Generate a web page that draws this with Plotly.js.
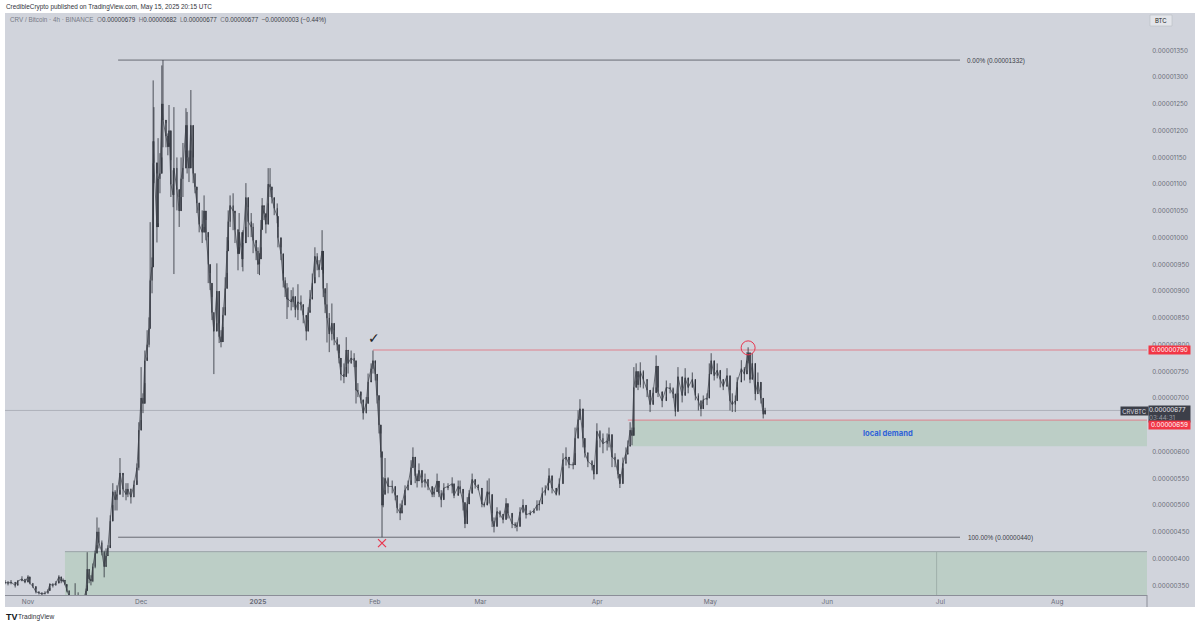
<!DOCTYPE html>
<html><head><meta charset="utf-8">
<script src="https://cdn.plot.ly/plotly-3.0.1.min.js"></script>
<style>html,body{margin:0;padding:0;background:#fff}#c{width:1200px;height:625px}</style></head>
<body><div id="c"></div>
<script>
// days after 1 Nov 2024
const barDays=[-6.1,-5.3,-4.5,-3.4,-2.7,-1.6,-.8,0,.5,1.3,2.1,2.9,3.7,4.5,5.3,5.8,6.6,7.4,8.2,8.8,9.3,9.8,10.3,10.9,11.7,12.5,13.3,14.1,14.9,15.4,15.7,16.2,16.7,17.2,17.8,18.3,18.8,19.6,20.2,20.7,21.2,21.8,22.5,23.1,23.6,24.4,25.2,26,26.5,27.3,28.1,28.9,29.4,30,30.5,31,31.6,32.1,32.4,32.9,33.2,33.4,34.2,34.5,35,35.5,35.8,36.6,37.1,37.4,37.9,38.5,38.7,39.5,40.1,40.6,41.1,41.9,42.2,42.7,43.2,43.8,44.3,44.8,45.4,46.2,46.7,47.2,47.8,48.3,48.8,49.3,50.1,50.7,51.2,51.7,52.3,52.8,53.1,53.6,54.4,54.9,55.7,56,56.8,57,57.8,58.4,59.2,59.7,60.5,61,61.4,61.8,62.1,62.6,63.1,63.7,64.2,64.7,65.3,66.1,66.3,67.1,67.7,68.2,68.7,69,69.8,70.3,70.9,71.6,72.4,73,73.8,74.3,74.8,75.4,76.1,76.7,77.2,78,78.3,78.8,79.3,79.9,80.6,81.2,82,82.5,83,83.8,84.4,84.9,85.7,86.5,87,87.5,88.3,88.9,89.7,90.2,91,91.5,92.1,92.6,93.1,93.6,93.9,94.2,94.7,95.5,96.6,97.4,97.9,98.7,99.2,100,100.8,101.6,102.1,102.7,103.2,103.7,104.5,105.3,106.1,107.2,107.7,108.5,109,109.6,110.3,111.4,112.5,113,114.1,114.6,115.4,115.9,116.5,117,117.8,118.6,119.4,120.4,121,121.8,122.3,123.1,123.6,124.4,125.2,126,126.8,127.3,128.4,129.2,129.7,130.5,131.3,132.1,133.2,134.2,135,135.6,136.4,137.2,138,138.2,139,140.1,140.9,141.9,142.7,143.5,144.6,145.1,145.9,146.4,147.2,147.7,148.5,149.6,150.1,150.9,151.7,152.5,153.6,154.1,154.9,155.7,156.5,157,157.8,158.6,159.1,159.7,160.2,160.7,161.3,161.8,162.4,163.2,164.2,165,165.8,166.6,167.1,168.2,169.3,170.3,171.1,171.7,172.4,173.5,174.3,175.1,176.2,177,177.8,178.5,179.1,180.1,180.7,181.2,182,182.8,183.6,184.4,185.4,186.2,186.8,187.6,188.1,189.2,190,190.7,191,191.5,192.1,192.9,193.6,194.4,195,195.5];
// prices in units of 0.00000001 BTC
const highs=[360,358,360,354,360,367,362,369,361,354,343,339,337,339,343,354,354,358,369,363,363,359,348,339,329,354,337,329,329,344,412,378,369,391,415,477,458,434,415,419,425,481,541,528,537,588,556,541,541,531,546,578,655,758,709,789,827,851,1029,963,1294,1244,1120,1186,1158,1322,1332,1214,1195,1248,1145,1126,1244,1150,1076,1150,1177,1242,1235,1163,1276,1150,1120,1089,1051,1051,1079,1033,1001,934,889,859,952,840,827,870,926,1001,1051,1079,1083,1046,1014,1046,982,1014,1102,1057,1046,1027,990,982,971,1033,1074,1057,1038,1130,1130,1089,1070,1064,1020,982,933,926,915,907,902,907,877,913,892,870,851,870,902,933,982,971,958,1014,933,896,915,859,877,827,814,784,758,765,814,789,789,784,758,728,705,692,702,746,765,789,765,733,696,634,589,552,588,552,546,528,515,503,509,537,546,584,608,571,559,578,552,559,546,528,533,559,533,528,541,541,552,524,546,546,522,477,515,528,559,543,537,509,505,546,550,485,477,496,490,481,513,496,477,468,468,496,511,490,490,494,509,509,533,537,550,569,546,524,550,597,608,584,580,645,677,698,645,608,597,584,571,653,640,634,634,645,608,597,565,552,589,608,621,655,645,758,765,739,767,752,733,702,720,780,720,705,733,728,720,683,758,720,756,733,748,715,709,696,705,709,765,784,752,765,746,733,756,715,709,705,739,771,758,786,795,746,784,720,748,715,683,682];
const lows=[352,350,352,346,352,358,354,360,352,345,335,333,332,333,335,345,346,350,358,354,356,350,337,328,322,326,322,322,322,326,350,354,350,356,382,425,419,406,365,387,406,425,500,490,490,528,515,509,515,503,515,546,565,659,672,728,776,795,830,896,1139,1102,991,1027,1083,1150,1169,1169,1154,1177,1076,1057,932,1051,1020,1076,1076,1163,1120,1104,1163,1102,1083,1046,1010,990,1020,995,915,902,846,745,840,803,795,833,870,934,995,1020,1014,990,939,982,945,937,1020,1001,1001,971,958,932,930,982,1033,1033,1008,1064,1076,1064,1042,1027,982,958,907,889,848,870,864,870,851,846,864,840,808,846,864,889,926,939,926,945,889,859,804,786,808,799,789,765,733,728,758,746,765,758,690,702,690,660,672,702,733,746,733,690,634,589,440,496,528,522,522,509,485,472,490,518,528,546,571,541,533,546,533,533,528,515,515,528,515,496,522,528,522,513,522,522,490,457,490,515,533,531,528,496,496,505,503,459,449,477,477,466,490,475,457,457,451,477,485,475,481,485,490,490,509,518,533,541,522,518,518,571,574,569,567,597,645,659,608,589,571,565,548,621,608,597,602,608,571,571,550,532,569,580,597,612,612,645,733,715,720,718,702,674,696,720,702,683,702,709,700,666,709,692,711,709,720,696,677,666,687,687,715,746,733,737,720,715,724,677,674,674,720,733,733,752,765,728,739,696,709,690,662,677];
const closes=[356,354,356,350,358,362,356,366,354,348,338,336,334,335,340,352,350,354,366,358,360,352,340,330,326,330,325,326,328,340,380,362,358,385,410,450,430,412,385,405,420,470,525,510,520,560,530,520,530,515,538,570,640,700,690,770,800,830,920,945,1180,1140,1020,1110,1120,1250,1220,1190,1170,1200,1100,1080,1130,1090,1050,1110,1130,1210,1150,1130,1210,1120,1095,1065,1025,1010,1050,1010,950,915,860,825,900,815,805,855,905,975,1030,1060,1050,1015,970,1010,960,990,1075,1030,1020,995,975,950,960,1015,1060,1045,1025,1100,1095,1075,1055,1040,1000,970,920,905,885,885,880,890,865,880,875,855,825,860,885,915,965,950,940,975,905,875,850,820,840,810,800,775,745,740,790,765,775,770,715,712,697,672,690,730,755,770,745,705,650,600,500,520,550,535,535,518,495,485,500,528,538,570,590,555,545,565,542,548,535,520,525,545,522,510,532,535,540,518,535,530,505,465,502,522,548,538,532,502,500,525,520,470,460,488,483,473,503,485,465,462,460,487,500,482,485,490,500,502,522,528,542,555,532,520,540,585,590,576,575,625,660,680,625,598,582,575,558,638,625,615,620,632,590,585,558,540,578,595,610,640,630,720,750,725,750,735,715,688,710,760,712,695,720,718,708,675,740,705,738,720,735,705,695,680,697,700,745,770,742,752,735,722,742,695,688,695,730,755,745,770,785,735,765,708,730,700,670,677];
const firstOpen=354;
const priceTicks=[1350,1300,1250,1200,1150,1100,1050,1000,950,900,850,800,750,700,650,600,550,500,450,400,350];
const monthDays=[0,30,61,92,120,151,181,212,242,273];
const monthLabels=['Nov','Dec','<b>2025</b>','Feb','Mar','Apr','May','Jun','Jul','Aug'];
const fibTop=1332, fibBottom=440, resistance=790, demandTop=659, demandBottom=610, zoneTop=413, zoneBottom=300, lastPrice=677;

const T0=Date.UTC(2024,10,1);
const dt=d=>new Date(T0+d*86400000).toISOString();
const px=x=>(x-5)/1142, py=y=>(595-y)/582;
const opens=closes.map((c,i)=>i?closes[i-1]:firstOpen);
const dates=barDays.map(dt);
const xEnd=dt(296.8);
const dark='#2b2e37';

const traces=[
 {type:'scatter',mode:'lines',x:dates,y:closes,line:{color:'#3a3d46',width:.7},hoverinfo:'skip',showlegend:false},
 {type:'candlestick',x:dates,open:opens,high:highs,low:lows,close:closes,
  increasing:{line:{color:dark,width:.8},fillcolor:dark},decreasing:{line:{color:dark,width:.8},fillcolor:dark},
  whiskerwidth:0,hoverinfo:'skip',showlegend:false},
 {type:'scatter',mode:'markers',x:[dt(93.9)],y:[429],marker:{symbol:'x-thin',size:8,line:{color:'#e8364f',width:1.2}},hoverinfo:'skip',showlegend:false},
 {type:'scatter',mode:'markers',x:[dt(191)],y:[794],marker:{symbol:'circle-open',size:14,line:{color:'#e8364f',width:1},color:'#e8364f'},hoverinfo:'skip',showlegend:false}
];
const shapes=[
 {type:'rect',xref:'paper',yref:'paper',x0:0,x1:px(1195),y0:py(607),y1:1,fillcolor:'#d1d4dc',line:{width:0},layer:'below'},
 {type:'rect',xref:'x',yref:'y',x0:dt(9.8),x1:xEnd,y0:zoneBottom,y1:zoneTop,fillcolor:'#bccec6',line:{width:0},layer:'below'},
 {type:'line',xref:'x',yref:'y',x0:dt(9.8),x1:xEnd,y0:zoneTop,y1:zoneTop,line:{color:'#9aa3a6',width:1},layer:'below'},
 {type:'line',xref:'x',yref:'y',x0:dt(241),x1:dt(241),y0:zoneBottom,y1:zoneTop,line:{color:'#9fb0aa',width:1},layer:'below'},
 {type:'rect',xref:'x',yref:'y',x0:dt(160.2),x1:xEnd,y0:demandBottom,y1:demandTop,fillcolor:'#bccec6',line:{width:0},layer:'below'},
 {type:'line',xref:'x',yref:'y',x0:dt(159.1),x1:xEnd,y0:demandTop,y1:demandTop,line:{color:'#e0808c',width:1},layer:'below'},
 {type:'line',xref:'x',yref:'y',x0:dt(91.5),x1:xEnd,y0:resistance,y1:resistance,line:{color:'#e0808c',width:1},layer:'below'},
 {type:'line',xref:'paper',yref:'y',x0:0,x1:1,y0:lastPrice,y1:lastPrice,line:{color:'#aeb1ba',width:1},layer:'below'},
 {type:'line',xref:'x',yref:'y',x0:dt(23.9),x1:dt(247.2),y0:fibTop,y1:fibTop,line:{color:'#4c4f58',width:.8},layer:'below'},
 {type:'line',xref:'x',yref:'y',x0:dt(23.9),x1:dt(247.2),y0:fibBottom,y1:fibBottom,line:{color:'#4c4f58',width:.8},layer:'below'},
 {type:'line',xref:'paper',yref:'paper',x0:1,x1:1,y0:py(607),y1:0,line:{color:'#8b8e98',width:1},layer:'below'},
 {type:'rect',xref:'paper',yref:'paper',x0:px(1150),x1:px(1172),y0:py(26),y1:py(15),fillcolor:'#e3e5ea',line:{color:'#b9bcc5',width:.6},layer:'above'}
];
const fam='Inter, "Liberation Sans", sans-serif';
const lib='"Liberation Sans", sans-serif';
function note(x,y,text,o={}){return Object.assign({xref:'paper',yref:'paper',x:px(x),y:py(y),text,showarrow:false,xanchor:'left',yanchor:'middle',borderpad:0,font:{family:lib,size:6.4,color:'#3b3e47'}},o);}
const g=s=>`<span style="color:#787b86">${s}</span>`;
const annotations=[
 note(5,7,'CredibleCrypto published on TradingView.com, May 15, 2025 20:15 UTC',{font:{family:lib,size:6.4,color:'#30333b'}}),
 note(9,20.5,g('CRV / Bitcoin · 4h · BINANCE')+'  '+g('O')+'0.00000679  '+g('H')+'0.00000682  '+g('L')+'0.00000677  '+g('C')+'0.00000677  −0.00000003 (−0.44%)',{font:{family:lib,size:6.3,color:'#3b3e47'}}),
 note(966,60.5,'0.00% (0.00001332)'),
 note(967,537.5,'100.00% (0.00000440)'),
 note(888,433.5,'<b>local demand</b>',{xanchor:'center',font:{family:fam,size:7.6,color:'#2f62d8'}}),
 note(374,338,'✓',{xanchor:'center',font:{family:'DejaVu Sans',size:14,color:'#222'}}),
 note(1161,20.5,'BTC',{xanchor:'center',font:{family:fam,size:6,color:'#222'}}),
 note(1120,410.5,'CRVBTC',{width:27,align:'center',height:8,bgcolor:'#3c3f49',font:{family:fam,size:6,color:'#d8dae0'}}),
 note(1148,414,'0.00000677<br><span style="color:#9a9da6">03:44:31</span>',{width:41,height:16,align:'left',bgcolor:'#3c3f49',font:{family:fam,size:6.3,color:'#e8e9ed'}}),
 note(1148,350,'0.00000790',{width:41,height:8,align:'center',bgcolor:'#f23645',font:{family:fam,size:6.3,color:'#fff'}}),
 note(1148,425.5,'0.00000659',{width:41,height:8,align:'center',bgcolor:'#f23645',font:{family:fam,size:6.3,color:'#fff'}}),
 note(5,616.5,'<b>TV</b>',{font:{family:lib,size:9,color:'#131722'}}),
 note(17,616.5,'TradingView',{font:{family:lib,size:6.6,color:'#30333b'}})
];
const layout={
 width:1200,height:625,margin:{l:5,r:53,t:13,b:30},paper_bgcolor:'#ffffff',plot_bgcolor:'#d1d4dc',
 showlegend:false,dragmode:false,
 xaxis:{type:'date',range:[dt(-6.1),xEnd],rangeslider:{visible:false},showgrid:false,zeroline:false,
  tickmode:'array',tickvals:monthDays.map(dt),ticktext:monthLabels,tickfont:{family:fam,size:6.5,color:'#6a6d78'},
  ticks:'',showline:true,linecolor:'#8b8e98',linewidth:1,tickangle:0},
 yaxis:{range:[332,1420],side:'right',showgrid:false,zeroline:false,tickmode:'array',tickvals:priceTicks,
  ticktext:priceTicks.map(v=>(v/1e8).toFixed(8)),tickfont:{family:fam,size:6.3,color:'#6a6d78'},
  ticks:'outside',ticklen:3,tickcolor:'rgba(0,0,0,0)',showline:false},
 boxgap:.6,shapes,annotations
};
Plotly.newPlot('c',traces,layout,{displayModeBar:false,staticPlot:true});
</script></body></html>
